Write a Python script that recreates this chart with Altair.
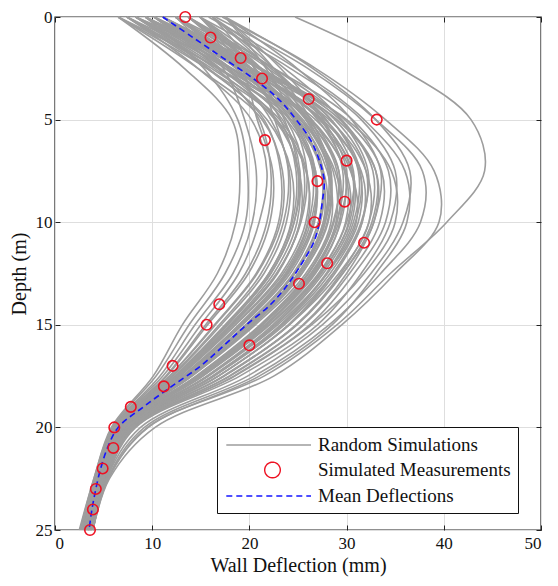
import altair as alt
import pandas as pd

# ---------------- data ----------------
depth_grid = [0, 2.5, 5, 7.5, 10, 12.5, 15, 17.5, 20, 22.5, 25]

sim_curves = [
    [6.5, 13.3, 18.2, 19.0, 18.6, 16.7, 13.1, 10.1, 5.8, 4.0, 2.5],
    [9.3, 15.3, 18.8, 19.8, 19.6, 17.5, 13.8, 10.4, 5.9, 4.0, 2.6],
    [12.4, 17.3, 19.5, 20.7, 20.3, 18.3, 14.4, 10.8, 6.0, 4.1, 2.7],
    [7.4, 14.7, 20.2, 21.8, 21.0, 18.9, 15.0, 11.1, 6.0, 4.1, 2.8],
    [14.9, 19.2, 20.8, 22.4, 22.1, 19.9, 15.7, 11.5, 6.1, 4.2, 2.9],
    [10.2, 16.7, 21.0, 22.2, 21.8, 19.6, 15.5, 11.4, 6.1, 4.2, 2.9],
    [8.3, 15.8, 21.5, 23.2, 23.0, 20.7, 16.4, 11.8, 6.2, 4.2, 3.0],
    [16.2, 20.5, 22.6, 24.0, 23.5, 21.2, 16.9, 12.0, 6.3, 4.3, 3.0],
    [11.1, 17.8, 22.2, 24.1, 23.8, 21.5, 17.1, 12.1, 6.3, 4.3, 3.0],
    [7.4, 15.6, 21.8, 24.3, 24.3, 22.0, 17.5, 12.3, 6.3, 4.3, 3.0],
    [13.7, 19.4, 23.2, 24.8, 24.4, 22.0, 17.6, 12.4, 6.3, 4.3, 3.1],
    [9.3, 17.0, 22.8, 25.0, 24.9, 22.5, 18.0, 12.6, 6.4, 4.4, 3.1],
    [6.5, 15.6, 22.8, 25.8, 26.0, 23.5, 18.6, 12.9, 6.4, 4.4, 3.2],
    [12.4, 19.0, 23.8, 25.6, 25.2, 22.9, 18.3, 12.8, 6.4, 4.4, 3.2],
    [17.5, 21.7, 24.5, 25.9, 25.3, 22.8, 18.2, 12.7, 6.4, 4.4, 3.2],
    [10.2, 18.1, 24.1, 26.7, 26.5, 23.9, 19.1, 13.2, 6.5, 4.5, 3.3],
    [8.3, 16.9, 23.8, 26.6, 26.7, 24.2, 19.3, 13.3, 6.5, 4.5, 3.3],
    [14.9, 20.6, 24.6, 26.5, 26.1, 23.7, 18.9, 13.1, 6.5, 4.4, 3.3],
    [11.1, 18.9, 24.8, 27.5, 27.3, 24.7, 19.7, 13.5, 6.6, 4.5, 3.4],
    [7.4, 16.7, 24.3, 27.6, 27.8, 25.2, 20.0, 13.6, 6.6, 4.5, 3.4],
    [13.7, 20.2, 25.3, 27.6, 27.1, 24.5, 19.6, 13.4, 6.6, 4.5, 3.4],
    [9.3, 17.8, 24.6, 27.4, 27.6, 25.0, 19.9, 13.6, 6.6, 4.5, 3.4],
    [16.2, 21.9, 26.0, 28.4, 27.8, 25.2, 20.3, 13.9, 6.7, 4.6, 3.4],
    [11.1, 19.2, 25.5, 28.3, 28.0, 25.4, 20.4, 14.0, 6.7, 4.6, 3.4],
    [8.3, 17.5, 25.0, 28.0, 28.4, 25.8, 20.6, 14.1, 6.8, 4.6, 3.5],
    [12.4, 20.2, 26.1, 29.0, 28.7, 26.1, 21.2, 14.6, 6.9, 4.7, 3.5],
    [6.5, 16.8, 25.2, 28.8, 29.3, 26.8, 21.6, 14.8, 6.9, 4.7, 3.5],
    [10.2, 19.0, 26.0, 29.2, 29.0, 26.3, 21.3, 14.6, 6.9, 4.7, 3.5],
    [17.5, 23.2, 27.6, 30.0, 29.2, 26.5, 21.7, 15.0, 7.1, 4.7, 3.6],
    [9.3, 18.8, 26.4, 29.8, 29.9, 27.1, 22.0, 15.2, 7.1, 4.8, 3.6],
    [13.7, 21.2, 27.0, 29.8, 29.4, 26.7, 21.8, 15.1, 7.1, 4.8, 3.6],
    [11.1, 20.2, 27.3, 30.5, 30.3, 27.4, 22.6, 15.7, 7.3, 4.8, 3.6],
    [7.4, 18.0, 26.8, 30.4, 31.0, 28.0, 22.9, 15.8, 7.3, 4.8, 3.6],
    [14.9, 22.2, 27.9, 30.7, 30.0, 27.2, 22.4, 15.6, 7.2, 4.8, 3.6],
    [10.2, 20.0, 27.8, 31.3, 31.2, 28.3, 23.4, 16.3, 7.5, 4.9, 3.7],
    [12.4, 21.2, 28.4, 31.4, 30.9, 28.0, 23.3, 16.2, 7.4, 4.9, 3.7],
    [8.3, 19.2, 28.2, 32.0, 32.3, 29.2, 24.1, 16.8, 7.6, 5.0, 3.7],
    [16.2, 23.6, 29.4, 32.2, 31.5, 28.6, 24.0, 16.8, 7.6, 5.0, 3.7],
    [11.1, 20.9, 28.8, 32.0, 31.6, 28.8, 24.1, 16.8, 7.6, 5.0, 3.7],
    [9.3, 20.1, 29.0, 33.0, 32.8, 29.6, 24.8, 17.4, 7.8, 5.0, 3.8],
    [13.7, 22.5, 29.5, 32.7, 32.3, 29.4, 24.8, 17.3, 7.8, 5.0, 3.8],
    [17.5, 24.9, 30.5, 33.5, 32.8, 30.0, 25.5, 17.9, 8.0, 5.1, 3.8],
    [10.2, 21.0, 29.8, 33.6, 33.4, 30.3, 25.6, 18.0, 8.0, 5.1, 3.8],
    [12.4, 22.5, 30.6, 34.3, 34.0, 30.8, 26.2, 18.4, 8.2, 5.2, 3.9],
    [14.9, 24.2, 31.5, 35.0, 34.5, 31.5, 27.0, 19.0, 8.3, 5.3, 3.9],
    [8.3, 20.2, 30.0, 34.6, 35.0, 31.8, 26.4, 18.5, 8.2, 5.2, 3.9],
    [11.1, 19.6, 25.8, 28.6, 28.9, 26.4, 21.4, 14.7, 6.9, 4.7, 3.5],
    [12.4, 19.3, 24.6, 26.8, 26.3, 23.8, 19.0, 13.2, 6.5, 4.5, 3.3],
    [10.2, 17.5, 23.4, 25.2, 24.6, 22.2, 17.8, 12.5, 6.4, 4.4, 3.1],
    [14.9, 21.2, 25.8, 28.1, 27.6, 25.0, 20.2, 13.8, 6.7, 4.6, 3.4],
    [9.3, 18.1, 25.3, 28.2, 28.1, 25.4, 20.4, 14.0, 6.7, 4.6, 3.4],
    [13.7, 20.9, 26.4, 29.2, 28.6, 26.0, 21.1, 14.5, 6.9, 4.7, 3.5],
    [8.3, 18.2, 26.2, 29.9, 30.2, 27.3, 22.1, 15.2, 7.1, 4.8, 3.6],
    [16.2, 22.5, 27.4, 29.6, 29.0, 26.6, 21.7, 15.0, 7.1, 4.7, 3.6],
    [11.1, 18.6, 24.3, 26.8, 26.6, 24.0, 19.2, 13.2, 6.5, 4.5, 3.3],
    [7.4, 16.1, 23.1, 25.9, 25.8, 23.3, 18.5, 12.8, 6.4, 4.4, 3.2],
    [12.4, 19.6, 25.0, 27.4, 27.1, 24.6, 19.7, 13.5, 6.6, 4.5, 3.4],
    [10.2, 19.7, 27.2, 30.6, 30.5, 27.6, 22.7, 15.7, 7.3, 4.8, 3.6],
    [14.9, 20.1, 23.6, 25.0, 24.6, 22.2, 17.7, 12.4, 6.3, 4.3, 3.1],
    [8.3, 16.4, 22.6, 25.1, 25.2, 22.8, 18.1, 12.6, 6.4, 4.4, 3.1],
    [11.1, 21.2, 29.3, 33.0, 32.6, 29.6, 24.9, 17.4, 7.8, 5.0, 3.8],
    [13.7, 21.9, 28.4, 31.2, 30.7, 27.9, 23.2, 16.2, 7.4, 4.9, 3.7],
    [6.5, 14.7, 21.3, 23.4, 23.2, 20.8, 16.5, 11.8, 6.2, 4.2, 3.0],
    [17.5, 22.5, 26.3, 28.3, 27.7, 25.1, 20.3, 13.8, 6.7, 4.6, 3.4],
    [9.3, 19.5, 27.5, 31.5, 31.6, 28.6, 23.6, 16.4, 7.5, 4.9, 3.7],
    [24.7, 35.5, 42.8, 44.2, 40.3, 34.5, 29.0, 21.5, 9.5, 5.5, 3.9],
    [17.2, 26.8, 34.0, 39.0, 39.5, 35.0, 29.5, 22.5, 10.3, 5.6, 3.9],
    [16.5, 26.0, 33.0, 37.8, 37.6, 33.5, 28.2, 20.5, 9.2, 5.4, 3.9],
    [17.5, 26.5, 33.0, 36.5, 35.8, 32.5, 27.5, 19.8, 8.8, 5.3, 3.9],
    [15.8, 24.8, 31.8, 36.0, 36.2, 33.0, 28.5, 21.0, 9.6, 5.4, 3.8],
]

meas_depth = list(range(26))
meas_defl = [13.4, 16.0, 19.1, 21.3, 26.1, 33.1, 21.6, 30.0, 27.0, 29.8, 26.7, 31.8, 28.0,
             25.1, 16.9, 15.6, 20.0, 12.1, 11.2, 7.8, 6.1, 6.0, 4.9, 4.2, 3.9, 3.6]

mean_depth = list(range(26))
mean_defl = [11.1, 14.2, 17.3, 20.4, 23.0, 24.8, 26.3, 27.2, 27.7, 27.5, 27.2, 26.6, 25.4,
             24.0, 22.2, 19.7, 17.4, 15.0, 12.0, 9.1, 6.5, 5.4, 4.7, 4.2, 3.8, 3.5]

x_ticks = [0, 10, 20, 30, 40, 50]
y_ticks = [0, 5, 10, 15, 20, 25]
series_names = ["Random Simulations", "Simulated Measurements", "Mean Deflections"]

# ---------------- tables ----------------
rows = []
for ci, curve in enumerate(sim_curves):
    for d, v in zip(depth_grid, curve):
        rows.append({"curve": ci, "depth": d, "defl": v})
sim_df = pd.DataFrame(rows)
meas_df = pd.DataFrame({"depth": meas_depth, "defl": meas_defl})
mean_df = pd.DataFrame({"depth": mean_depth, "defl": mean_defl})
legend_df = pd.DataFrame({"series": series_names, "depth": [-1, -1, -1], "defl": [0, 0, 0]})

GRAY = "#9d9d9d"
RED = "#ee1122"
BLUE = "#1414ff"
FONT = "Liberation Serif"

xs = alt.Scale(domain=[0, 50], nice=False, zero=False)
ys = alt.Scale(domain=[0, 25], nice=False, zero=False, reverse=True)

common_axis = dict(domain=False, ticks=True, tickSize=5, tickColor="#222222", tickWidth=1,
                   offset=-5, labelFont=FONT, labelFontSize=17, labelColor="#111111",
                   titleFont=FONT, titleFontSize=20, titleFontWeight="normal",
                   titleColor="#111111", grid=True, gridColor="#dedede", gridWidth=1)

x_bottom = alt.Axis(values=x_ticks, format="d", labelPadding=5, titlePadding=4,
                    title="Wall Deflection (mm)", **common_axis)
y_left = alt.Axis(values=y_ticks, format="d", labelPadding=3, titlePadding=6,
                  title="Depth (m)", **common_axis)
x_top = alt.Axis(orient="top", values=x_ticks, labels=False, grid=False, domain=False,
                 tickSize=5, tickColor="#222222", offset=-5, title=None)
y_right = alt.Axis(orient="right", values=y_ticks, labels=False, grid=False, domain=False,
                   tickSize=5, tickColor="#222222", offset=-5, title=None)

sims = alt.Chart(sim_df).mark_line(color=GRAY, strokeWidth=1.6, interpolate="catmull-rom").encode(
    x=alt.X("defl:Q", scale=xs, axis=x_bottom),
    y=alt.Y("depth:Q", scale=ys, axis=y_left),
    detail="curve:N",
    order=alt.Order("depth:Q"),
)

mean_line = alt.Chart(mean_df).mark_line(color=BLUE, strokeWidth=1.6, strokeDash=[6, 4],
                                         interpolate="catmull-rom").encode(
    x=alt.X("defl:Q", scale=xs, axis=x_top),
    y=alt.Y("depth:Q", scale=ys, axis=y_right),
    order=alt.Order("depth:Q"),
)

meas = alt.Chart(meas_df).mark_point(shape="circle", filled=False, color=RED, size=110,
                                     strokeWidth=1.6, opacity=1).encode(
    x=alt.X("defl:Q", scale=xs, axis=None),
    y=alt.Y("depth:Q", scale=ys, axis=None),
)

line_path = "M-0.87,0L7.6,0"
circle_path = "M2.97,0A0.78,0.78 0 1,1 4.53,0A0.78,0.78 0 1,1 2.97,0Z"

leg = alt.Legend(orient="none", legendX=162, legendY=410, title=None, symbolSize=400,
                 symbolStrokeWidth=1.4, symbolFillColor="transparent", labelFont=FONT,
                 labelFontSize=19, labelColor="#111111", labelOffset=72, labelLimit=400,
                 padding=7, rowPadding=4, strokeColor="#111111", fillColor="white",
                 cornerRadius=0)

legend_layer = alt.Chart(legend_df).transform_filter("datum.depth >= 0").mark_point(
    filled=False, opacity=1).encode(
    x=alt.X("defl:Q", scale=xs, axis=None),
    y=alt.Y("depth:Q", scale=ys, axis=None),
    color=alt.Color("series:N", scale=alt.Scale(domain=series_names, range=[GRAY, RED, BLUE]),
                    legend=leg),
    shape=alt.Shape("series:N", scale=alt.Scale(domain=series_names,
                                                range=[line_path, circle_path, line_path]),
                    legend=leg),
    strokeDash=alt.StrokeDash("series:N", scale=alt.Scale(domain=series_names,
                                                          range=[[1, 0], [1, 0], [6, 4]]),
                              legend=leg),
)

chart = alt.layer(sims, mean_line, meas, legend_layer).resolve_axis(
    x="independent", y="independent"
).properties(
    width=486, height=513,
    autosize=alt.AutoSizeParams(type="none"),
    padding={"left": 47, "top": 9, "right": 9, "bottom": 48},
    background="white",
).configure_view(stroke="#222222", strokeWidth=1.4)

chart.save("out.html", embed_options={"renderer": "svg", "actions": False})
